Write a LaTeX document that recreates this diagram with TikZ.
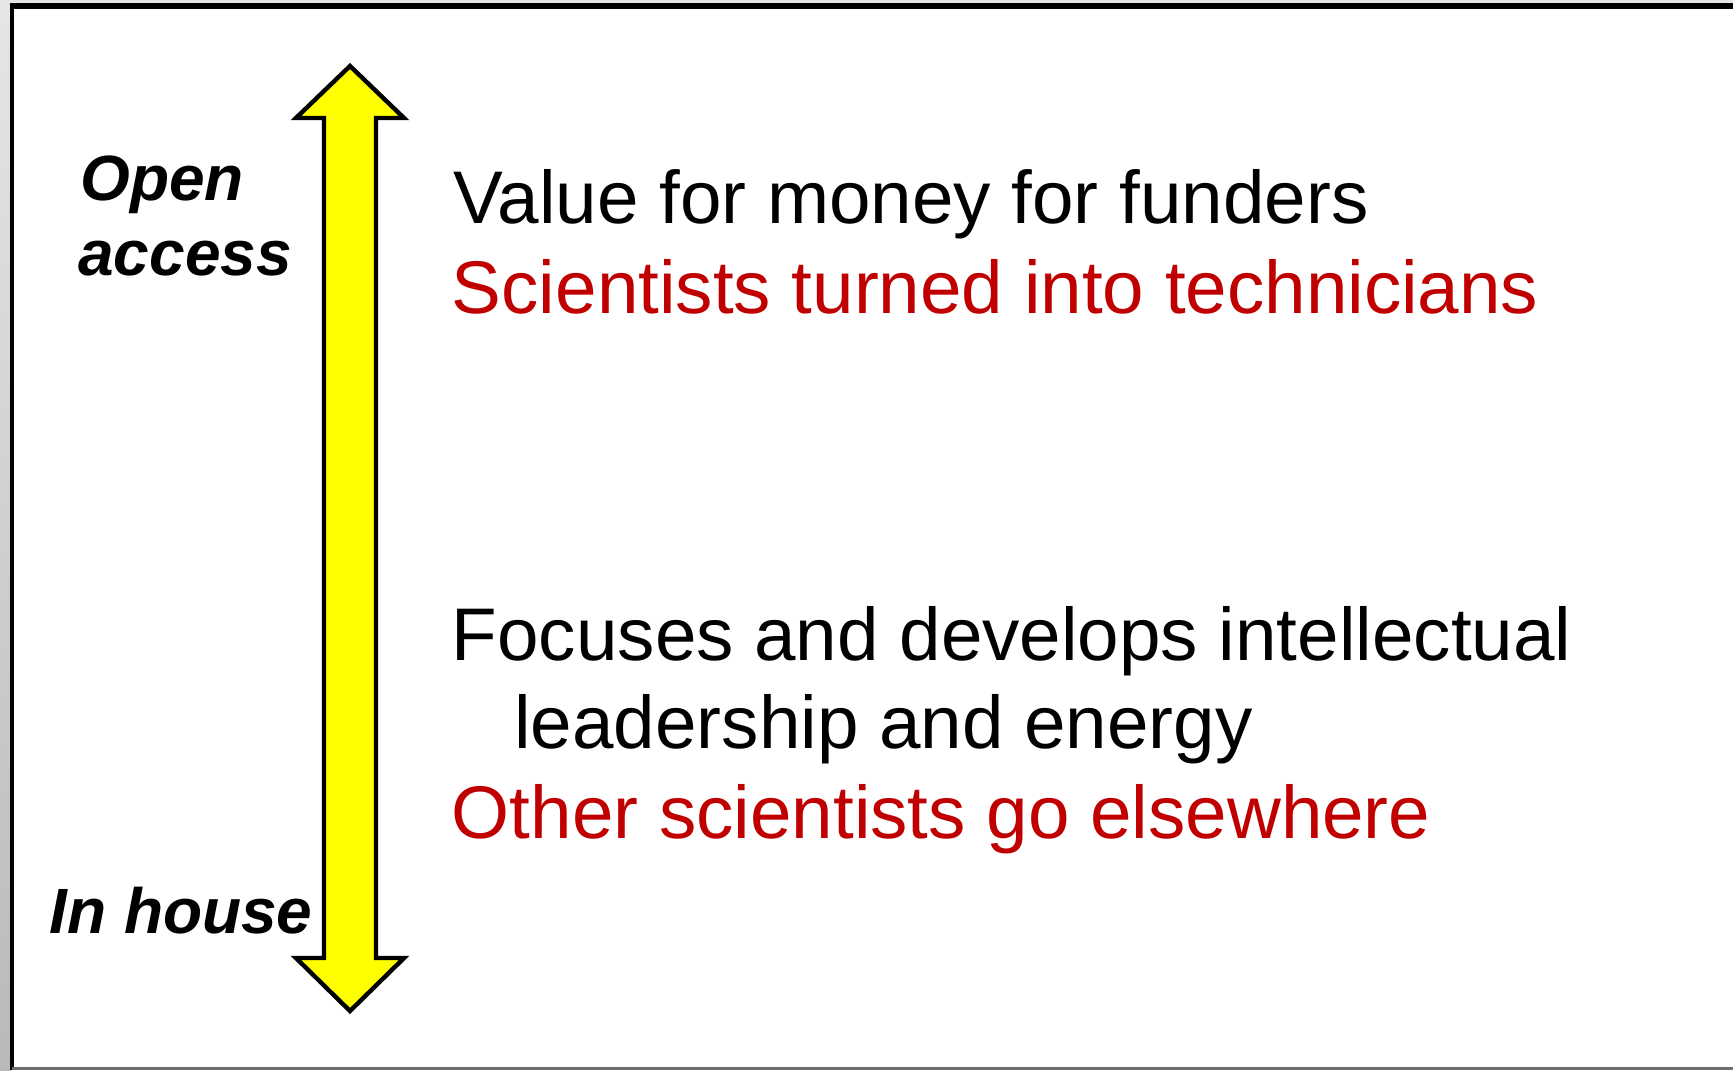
\documentclass[tikz,border=0pt]{standalone}
\usepackage{fontspec}
\setmainfont{Liberation Sans}
\usepackage{xcolor}
\usepackage{tikz}
\usetikzlibrary{positioning}
\definecolor{accentred}{RGB}{192, 0, 0}
\definecolor{scaleyellow}{RGB}{255, 255, 0}
\definecolor{framegray}{RGB}{110, 110, 110}

\begin{document}
\begin{tikzpicture}[x=0.5pt, y=-0.5pt,
    pointtext/.style={anchor=base west, inner sep=0pt, font=\fontsize{37.3}{44}\selectfont},
    endlabel/.style={anchor=base west, inner sep=0pt, font=\fontsize{32}{38}\selectfont\bfseries\itshape}]
        \useasboundingbox (0,0) rectangle (1733,1070);
        
        % Background and slide frame
        \fill[white] (0,0) rectangle (1733,1070);
        \shade[top color=gray!20, bottom color=gray!55] (0,0) rectangle (11,1070);
        \fill[gray!20] (11,0) rectangle (1733,3);
        \draw[line width=2pt] (12,1070) -- (12,6);
        \draw[line width=3pt] (10,6) -- (1733,6);
        \draw[framegray, line width=1.5pt] (12,1068.5) -- (1733,1068.5);
        
        % Double-headed scale arrow
        \draw[line width=2.2pt, fill=scaleyellow, miter limit=10]
            (350,66) -- (404,118) -- (376,118) -- (376,958) -- (404,958) -- (350,1011)
            -- (296,958) -- (324,958) -- (324,118) -- (296,118) -- cycle;
        
        % Ends of the scale
        \node[endlabel] (open) at (80,200) {Open};
        \node[endlabel] (access) at (78,275) {access};
        \node[endlabel] (inhouse) at (49,933) {In house};
        
        % Points for open access
        \node[pointtext] (value) at (453,223) {Value for money for funders};
        \node[pointtext, text=accentred] (technicians) at (451.5,313) {Scientists turned into technicians};
        
        % Points for in house
        \node[pointtext] (focus) at (451.5,660) {Focuses and develops intellectual};
        \node[pointtext] (leader) at (514,748) {leadership and energy};
        \node[pointtext, text=accentred] (elsewhere) at (451.5,838) {Other scientists go elsewhere};
    \end{tikzpicture}
\end{document}
